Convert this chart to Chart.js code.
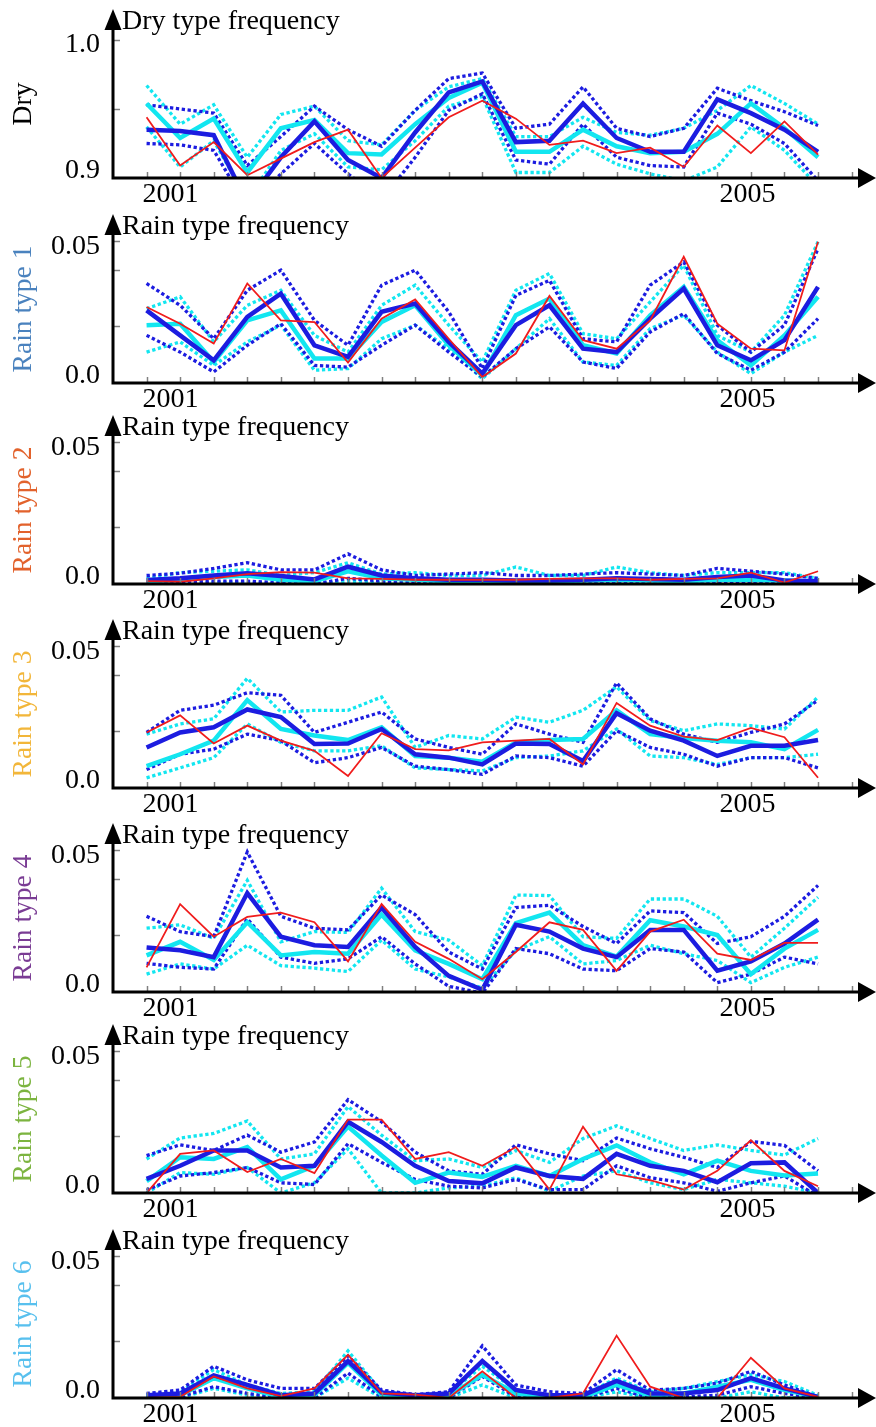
<!DOCTYPE html>
<html>
<head>
<meta charset="utf-8">
<script src="https://cdn.jsdelivr.net/npm/chart.js@4"></script>
<style>
  html, body { margin: 0; padding: 0; background: #fff; }
  #wrap { position: relative; width: 876px; height: 1427px; overflow: hidden; }
  #wrap canvas { position: absolute; left: 0; }
</style>
</head>
<body>
<div id="wrap"></div>
<script>
// time steps (one per season), 2001 .. 2005
var periods = [0, 1, 2, 3, 4, 5, 6, 7, 8, 9, 10, 11, 12, 13, 14, 15, 16, 17, 18, 19, 20];
var yearLabels = ["2001", "2005"];
var yearPositions = [0.71, 17.9];

// Dry
var dryRed    = [0.944, 0.909, 0.926, 0.902, 0.914, 0.926, 0.935, 0.900, 0.922, 0.944, 0.956, 0.943, 0.924, 0.927, 0.918, 0.922, 0.908, 0.938, 0.918, 0.941, 0.917];
var dryBlue   = [0.935, 0.934, 0.931, 0.882, 0.915, 0.941, 0.913, 0.900, 0.933, 0.962, 0.970, 0.926, 0.927, 0.954, 0.929, 0.919, 0.919, 0.957, 0.947, 0.935, 0.919];
var dryBlueHi = [0.953, 0.950, 0.947, 0.909, 0.930, 0.952, 0.935, 0.923, 0.949, 0.972, 0.976, 0.936, 0.939, 0.966, 0.936, 0.930, 0.936, 0.965, 0.956, 0.948, 0.938];
var dryBlueLo = [0.925, 0.924, 0.920, 0.879, 0.903, 0.925, 0.903, 0.884, 0.915, 0.949, 0.961, 0.913, 0.910, 0.939, 0.915, 0.909, 0.908, 0.947, 0.939, 0.925, 0.898];
var dryCyan   = [0.954, 0.929, 0.943, 0.904, 0.936, 0.942, 0.918, 0.917, 0.939, 0.958, 0.969, 0.919, 0.919, 0.935, 0.923, 0.918, 0.919, 0.932, 0.954, 0.936, 0.915];
var dryCyanHi = [0.967, 0.939, 0.953, 0.915, 0.946, 0.952, 0.927, 0.924, 0.949, 0.966, 0.972, 0.930, 0.930, 0.944, 0.933, 0.931, 0.936, 0.949, 0.967, 0.954, 0.939];
var dryCyanLo = [0.937, 0.908, 0.927, 0.884, 0.920, 0.932, 0.908, 0.906, 0.927, 0.952, 0.959, 0.904, 0.904, 0.923, 0.910, 0.903, 0.898, 0.908, 0.937, 0.920, 0.894];

// Rain type 1
var r1Red    = [0.0268, 0.0209, 0.0139, 0.0351, 0.0221, 0.0215, 0.0072, 0.0227, 0.0295, 0.0156, 0.0021, 0.0104, 0.0307, 0.0151, 0.0121, 0.0221, 0.0445, 0.0209, 0.0121, 0.0115, 0.0498];
var r1Blue   = [0.0256, 0.0168, 0.0080, 0.0233, 0.0315, 0.0133, 0.0092, 0.0251, 0.0280, 0.0145, 0.0033, 0.0204, 0.0274, 0.0121, 0.0109, 0.0227, 0.0333, 0.0133, 0.0080, 0.0151, 0.0339];
var r1BlueHi = [0.0351, 0.0274, 0.0156, 0.0327, 0.0398, 0.0221, 0.0133, 0.0345, 0.0398, 0.0251, 0.0051, 0.0309, 0.0362, 0.0156, 0.0145, 0.0345, 0.0427, 0.0204, 0.0109, 0.0204, 0.0474];
var r1BlueLo = [0.0168, 0.0109, 0.0039, 0.0133, 0.0209, 0.0062, 0.0056, 0.0133, 0.0204, 0.0109, 0.0021, 0.0121, 0.0198, 0.0074, 0.0051, 0.0180, 0.0245, 0.0104, 0.0045, 0.0109, 0.0227];
var r1Cyan   = [0.0204, 0.0209, 0.0074, 0.0221, 0.0256, 0.0086, 0.0086, 0.0215, 0.0274, 0.0133, 0.0027, 0.0239, 0.0298, 0.0133, 0.0104, 0.0239, 0.0339, 0.0151, 0.0062, 0.0168, 0.0304];
var r1CyanHi = [0.0262, 0.0304, 0.0145, 0.0274, 0.0327, 0.0168, 0.0109, 0.0274, 0.0345, 0.0204, 0.0074, 0.0327, 0.0386, 0.0174, 0.0156, 0.0286, 0.0415, 0.0168, 0.0109, 0.0239, 0.0498];
var r1CyanLo = [0.0109, 0.0145, 0.0062, 0.0145, 0.0204, 0.0045, 0.0051, 0.0156, 0.0204, 0.0121, 0.0015, 0.0121, 0.0227, 0.0074, 0.0062, 0.0192, 0.0239, 0.0109, 0.0033, 0.0109, 0.0168];

// Rain type 2
var r2Red    = [0.0010, 0.0008, 0.0020, 0.0035, 0.0042, 0.0040, 0.0020, 0.0018, 0.0015, 0.0015, 0.0015, 0.0015, 0.0018, 0.0020, 0.0020, 0.0015, 0.0018, 0.0020, 0.0040, 0.0005, 0.0045];
var r2Blue   = [0.0014, 0.0020, 0.0030, 0.0038, 0.0028, 0.0016, 0.0061, 0.0030, 0.0020, 0.0015, 0.0015, 0.0012, 0.0012, 0.0015, 0.0020, 0.0018, 0.0015, 0.0025, 0.0030, 0.0012, 0.0010];
var r2BlueHi = [0.0030, 0.0038, 0.0055, 0.0075, 0.0050, 0.0050, 0.0106, 0.0050, 0.0030, 0.0035, 0.0040, 0.0030, 0.0030, 0.0035, 0.0040, 0.0035, 0.0030, 0.0055, 0.0045, 0.0035, 0.0020];
var r2BlueLo = [0.0003, 0.0005, 0.0010, 0.0010, 0.0005, 0.0000, 0.0020, 0.0010, 0.0005, 0.0000, 0.0000, 0.0000, 0.0002, 0.0000, 0.0005, 0.0000, 0.0000, 0.0005, 0.0008, 0.0000, 0.0000];
var r2Cyan   = [0.0010, 0.0015, 0.0025, 0.0030, 0.0015, 0.0010, 0.0045, 0.0020, 0.0015, 0.0010, 0.0012, 0.0010, 0.0010, 0.0012, 0.0015, 0.0012, 0.0010, 0.0015, 0.0015, 0.0012, 0.0008];
var r2CyanHi = [0.0020, 0.0040, 0.0045, 0.0050, 0.0030, 0.0040, 0.0075, 0.0035, 0.0040, 0.0030, 0.0030, 0.0060, 0.0030, 0.0030, 0.0060, 0.0040, 0.0030, 0.0040, 0.0040, 0.0040, 0.0020];
var r2CyanLo = [0.0000, 0.0000, 0.0005, 0.0005, 0.0000, 0.0000, 0.0010, 0.0005, 0.0000, 0.0000, 0.0000, 0.0000, 0.0000, 0.0000, 0.0003, 0.0000, 0.0000, 0.0000, 0.0002, 0.0000, 0.0000];

// Rain type 3
var r3Red    = [0.0196, 0.0256, 0.0157, 0.0220, 0.0167, 0.0131, 0.0042, 0.0193, 0.0137, 0.0133, 0.0161, 0.0167, 0.0173, 0.0083, 0.0300, 0.0220, 0.0181, 0.0169, 0.0212, 0.0179, 0.0036];
var r3Blue   = [0.0143, 0.0196, 0.0214, 0.0277, 0.0250, 0.0155, 0.0157, 0.0208, 0.0119, 0.0107, 0.0083, 0.0157, 0.0155, 0.0095, 0.0264, 0.0202, 0.0167, 0.0113, 0.0149, 0.0149, 0.0169];
var r3BlueHi = [0.0196, 0.0274, 0.0292, 0.0336, 0.0327, 0.0196, 0.0232, 0.0268, 0.0173, 0.0143, 0.0119, 0.0226, 0.0190, 0.0161, 0.0371, 0.0244, 0.0190, 0.0161, 0.0196, 0.0226, 0.0310];
var r3BlueLo = [0.0065, 0.0119, 0.0137, 0.0190, 0.0167, 0.0089, 0.0107, 0.0143, 0.0077, 0.0065, 0.0048, 0.0113, 0.0107, 0.0077, 0.0202, 0.0143, 0.0119, 0.0077, 0.0107, 0.0107, 0.0071];
var r3Cyan   = [0.0077, 0.0119, 0.0167, 0.0310, 0.0208, 0.0185, 0.0169, 0.0214, 0.0113, 0.0107, 0.0093, 0.0161, 0.0169, 0.0173, 0.0274, 0.0190, 0.0176, 0.0167, 0.0161, 0.0137, 0.0205];
var r3CyanHi = [0.0190, 0.0226, 0.0244, 0.0387, 0.0268, 0.0274, 0.0274, 0.0321, 0.0143, 0.0185, 0.0173, 0.0250, 0.0232, 0.0274, 0.0357, 0.0238, 0.0202, 0.0226, 0.0220, 0.0208, 0.0321];
var r3CyanLo = [0.0036, 0.0071, 0.0107, 0.0226, 0.0161, 0.0131, 0.0131, 0.0149, 0.0071, 0.0065, 0.0060, 0.0107, 0.0113, 0.0131, 0.0208, 0.0113, 0.0107, 0.0083, 0.0107, 0.0107, 0.0119];

// Rain type 4
var r4Red    = [0.0087, 0.0310, 0.0195, 0.0265, 0.0280, 0.0246, 0.0108, 0.0310, 0.0177, 0.0117, 0.0045, 0.0141, 0.0246, 0.0219, 0.0075, 0.0213, 0.0255, 0.0135, 0.0113, 0.0173, 0.0173];
var r4Blue   = [0.0157, 0.0147, 0.0123, 0.0349, 0.0195, 0.0165, 0.0159, 0.0298, 0.0159, 0.0057, 0.0008, 0.0237, 0.0213, 0.0153, 0.0123, 0.0219, 0.0219, 0.0075, 0.0108, 0.0171, 0.0255];
var r4BlueHi = [0.0267, 0.0213, 0.0195, 0.0494, 0.0267, 0.0225, 0.0219, 0.0342, 0.0273, 0.0141, 0.0081, 0.0298, 0.0306, 0.0231, 0.0171, 0.0286, 0.0280, 0.0171, 0.0195, 0.0267, 0.0376];
var r4BlueLo = [0.0101, 0.0087, 0.0081, 0.0258, 0.0123, 0.0101, 0.0117, 0.0195, 0.0099, 0.0020, -0.0004, 0.0153, 0.0135, 0.0081, 0.0075, 0.0153, 0.0141, 0.0033, 0.0063, 0.0123, 0.0099];
var r4Cyan   = [0.0129, 0.0177, 0.0113, 0.0246, 0.0129, 0.0141, 0.0135, 0.0273, 0.0147, 0.0099, 0.0045, 0.0243, 0.0280, 0.0165, 0.0125, 0.0253, 0.0231, 0.0201, 0.0063, 0.0153, 0.0219];
var r4CyanHi = [0.0225, 0.0237, 0.0189, 0.0394, 0.0177, 0.0213, 0.0210, 0.0366, 0.0213, 0.0183, 0.0093, 0.0342, 0.0340, 0.0195, 0.0189, 0.0328, 0.0328, 0.0267, 0.0123, 0.0225, 0.0334];
var r4CyanLo = [0.0063, 0.0099, 0.0081, 0.0165, 0.0093, 0.0084, 0.0072, 0.0183, 0.0081, 0.0053, 0.0014, 0.0147, 0.0195, 0.0099, 0.0111, 0.0165, 0.0135, 0.0111, 0.0033, 0.0087, 0.0123];

// Rain type 5
var r5Red    = [0.0000, 0.0138, 0.0150, 0.0074, 0.0120, 0.0070, 0.0259, 0.0259, 0.0120, 0.0144, 0.0096, 0.0162, 0.0012, 0.0234, 0.0066, 0.0045, 0.0012, 0.0078, 0.0186, 0.0078, 0.0024];
var r5Blue   = [0.0050, 0.0096, 0.0150, 0.0150, 0.0090, 0.0096, 0.0251, 0.0180, 0.0096, 0.0042, 0.0034, 0.0090, 0.0060, 0.0050, 0.0138, 0.0096, 0.0078, 0.0038, 0.0105, 0.0108, 0.0000];
var r5BlueHi = [0.0132, 0.0170, 0.0150, 0.0204, 0.0144, 0.0180, 0.0329, 0.0251, 0.0144, 0.0078, 0.0066, 0.0170, 0.0138, 0.0114, 0.0194, 0.0156, 0.0126, 0.0090, 0.0182, 0.0168, 0.0078];
var r5BlueLo = [0.0010, 0.0060, 0.0072, 0.0090, 0.0036, 0.0030, 0.0174, 0.0108, 0.0048, 0.0024, 0.0018, 0.0048, 0.0012, 0.0012, 0.0096, 0.0054, 0.0036, 0.0006, 0.0036, 0.0060, -0.0012];
var r5Cyan   = [0.0042, 0.0126, 0.0120, 0.0162, 0.0048, 0.0096, 0.0234, 0.0132, 0.0036, 0.0072, 0.0057, 0.0096, 0.0060, 0.0120, 0.0168, 0.0108, 0.0066, 0.0114, 0.0078, 0.0062, 0.0069];
var r5CyanHi = [0.0120, 0.0194, 0.0210, 0.0254, 0.0120, 0.0138, 0.0305, 0.0204, 0.0114, 0.0120, 0.0090, 0.0150, 0.0108, 0.0192, 0.0237, 0.0192, 0.0150, 0.0170, 0.0150, 0.0134, 0.0192];
var r5CyanLo = [0.0000, 0.0072, 0.0066, 0.0090, 0.0000, 0.0036, 0.0156, 0.0000, 0.0000, 0.0018, 0.0024, 0.0054, 0.0006, 0.0060, 0.0078, 0.0036, 0.0012, 0.0048, 0.0036, 0.0024, 0.0000];

// Rain type 6
var r6Red    = [0.0000, 0.0004, 0.0076, 0.0034, 0.0007, 0.0034, 0.0152, 0.0016, 0.0012, 0.0000, 0.0094, 0.0000, 0.0000, 0.0016, 0.0220, 0.0040, 0.0000, 0.0000, 0.0142, 0.0034, 0.0004];
var r6Blue   = [0.0010, 0.0016, 0.0080, 0.0046, 0.0010, 0.0016, 0.0130, 0.0019, 0.0010, 0.0016, 0.0130, 0.0028, 0.0010, 0.0010, 0.0060, 0.0016, 0.0016, 0.0028, 0.0070, 0.0034, 0.0004];
var r6BlueHi = [0.0016, 0.0028, 0.0112, 0.0064, 0.0034, 0.0034, 0.0148, 0.0028, 0.0012, 0.0022, 0.0184, 0.0046, 0.0022, 0.0016, 0.0100, 0.0028, 0.0034, 0.0052, 0.0094, 0.0046, 0.0004];
var r6BlueLo = [0.0004, 0.0004, 0.0040, 0.0016, 0.0000, 0.0000, 0.0088, 0.0004, 0.0000, 0.0000, 0.0076, 0.0004, 0.0000, 0.0000, 0.0034, 0.0000, 0.0004, 0.0010, 0.0040, 0.0016, 0.0000];
var r6Cyan   = [0.0004, 0.0010, 0.0070, 0.0034, 0.0004, 0.0010, 0.0124, 0.0010, 0.0004, 0.0007, 0.0082, 0.0016, 0.0004, 0.0004, 0.0046, 0.0010, 0.0016, 0.0040, 0.0064, 0.0028, 0.0004];
var r6CyanHi = [0.0010, 0.0022, 0.0100, 0.0046, 0.0016, 0.0022, 0.0166, 0.0022, 0.0010, 0.0016, 0.0112, 0.0028, 0.0010, 0.0010, 0.0070, 0.0022, 0.0034, 0.0058, 0.0082, 0.0058, 0.0010];
var r6CyanLo = [0.0000, 0.0000, 0.0034, 0.0010, 0.0000, 0.0000, 0.0070, 0.0000, 0.0000, 0.0000, 0.0046, 0.0000, 0.0000, 0.0000, 0.0022, 0.0000, 0.0000, 0.0000, 0.0022, 0.0000, 0.0000];

var BLUE = "#1c1ce0";
var CYAN = "#12e6f0";
var RED = "#f01c1c";
var FONT = '"Liberation Serif", "Times New Roman", serif';

var panels = [
  { top: 0,    name: "Dry",         color: "#000000", title: "Dry type frequency",  min: 0.9, max: 1.0072, minor: [0.95], labels: ["0.9", "1.0"], labelAt: [0.9, 1.0],
    lines: [dryRed, dryBlue, dryCyan, dryBlueHi, dryBlueLo, dryCyanHi, dryCyanLo] },
  { top: 205,  name: "Rain type 1", color: "#4a82be", title: "Rain type frequency", min: 0, max: 0.0522, minor: [0.02, 0.04], labels: ["0.0", "0.05"], labelAt: [0, 0.05],
    lines: [r1Red, r1Blue, r1Cyan, r1BlueHi, r1BlueLo, r1CyanHi, r1CyanLo] },
  { top: 406,  name: "Rain type 2", color: "#e2622c", title: "Rain type frequency", min: 0, max: 0.0522, minor: [0.02, 0.04], labels: ["0.0", "0.05"], labelAt: [0, 0.05],
    lines: [r2Red, r2Blue, r2Cyan, r2BlueHi, r2BlueLo, r2CyanHi, r2CyanLo] },
  { top: 610,  name: "Rain type 3", color: "#f2b63a", title: "Rain type frequency", min: 0, max: 0.0522, minor: [0.02, 0.04], labels: ["0.0", "0.05"], labelAt: [0, 0.05],
    lines: [r3Red, r3Blue, r3Cyan, r3BlueHi, r3BlueLo, r3CyanHi, r3CyanLo] },
  { top: 814,  name: "Rain type 4", color: "#7a3c94", title: "Rain type frequency", min: 0, max: 0.0522, minor: [0.02, 0.04], labels: ["0.0", "0.05"], labelAt: [0, 0.05],
    lines: [r4Red, r4Blue, r4Cyan, r4BlueHi, r4BlueLo, r4CyanHi, r4CyanLo] },
  { top: 1015, name: "Rain type 5", color: "#7cb440", title: "Rain type frequency", min: 0, max: 0.0522, minor: [0.02, 0.04], labels: ["0.0", "0.05"], labelAt: [0, 0.05],
    lines: [r5Red, r5Blue, r5Cyan, r5BlueHi, r5BlueLo, r5CyanHi, r5CyanLo] },
  { top: 1220, name: "Rain type 6", color: "#58c0ee", title: "Rain type frequency", min: 0, max: 0.0522, minor: [0.02, 0.04], labels: ["0.0", "0.05"], labelAt: [0, 0.05],
    lines: [r6Red, r6Blue, r6Cyan, r6BlueHi, r6BlueLo, r6CyanHi, r6CyanLo] }
];

// red, blue mean, cyan mean, blue bounds, cyan bounds (first drawn on top)
var styles = [
  { color: RED,  width: 1.8, dash: [] },
  { color: BLUE, width: 4.5, dash: [] },
  { color: CYAN, width: 4.5, dash: [] },
  { color: BLUE, width: 3.3, dash: [3.3, 2.6] },
  { color: BLUE, width: 3.3, dash: [3.3, 2.6] },
  { color: CYAN, width: 3.3, dash: [3.3, 2.6] },
  { color: CYAN, width: 3.3, dash: [3.3, 2.6] }
];

function toPoints(arr) {
  return arr.map(function (v, i) {
    return { x: periods[i], y: v };
  });
}

var arrowAxes = {
  id: "arrowAxes",
  afterDraw: function (chart, args, opts) {
    var p = opts.panel;
    var ctx = chart.ctx;
    var a = chart.chartArea;
    var x = chart.scales.x;
    var y = chart.scales.y;
    ctx.save();

    // small inward ticks
    ctx.strokeStyle = "#808080";
    ctx.lineWidth = 1.5;
    for (var i = 0; i <= 21; i++) {
      var px = Math.round(x.getPixelForValue(i)) + 0.5;
      ctx.beginPath();
      ctx.moveTo(px, a.bottom);
      ctx.lineTo(px, a.bottom - 6);
      ctx.stroke();
    }
    p.minor.concat([p.labelAt[1]]).forEach(function (v) {
      var py = Math.round(y.getPixelForValue(v)) + 0.5;
      ctx.beginPath();
      ctx.moveTo(a.left, py);
      ctx.lineTo(a.left + 7, py);
      ctx.stroke();
    });

    // axis lines
    ctx.strokeStyle = "#000";
    ctx.lineWidth = 3;
    ctx.beginPath();
    ctx.moveTo(a.left, a.bottom + 1.5);
    ctx.lineTo(a.left, 26);
    ctx.moveTo(a.left - 1.5, a.bottom);
    ctx.lineTo(862, a.bottom);
    ctx.stroke();

    // arrow heads
    ctx.fillStyle = "#000";
    ctx.beginPath();
    ctx.moveTo(a.left, 9);
    ctx.lineTo(a.left - 8.5, 30);
    ctx.lineTo(a.left + 8.5, 30);
    ctx.closePath();
    ctx.fill();
    ctx.beginPath();
    ctx.moveTo(876, a.bottom);
    ctx.lineTo(858, a.bottom - 10);
    ctx.lineTo(858, a.bottom + 10);
    ctx.closePath();
    ctx.fill();

    // tick labels
    ctx.font = "28px " + FONT;
    ctx.textBaseline = "middle";
    ctx.textAlign = "right";
    ctx.fillText(p.labels[0], 100, y.getPixelForValue(p.labelAt[0]) - 7);
    ctx.fillText(p.labels[1], 100, y.getPixelForValue(p.labelAt[1]) + 5);
    ctx.textAlign = "center";
    yearLabels.forEach(function (lab, k) {
      ctx.fillText(lab, x.getPixelForValue(yearPositions[k]), a.bottom + 17);
    });

    // titles
    ctx.font = "28px " + FONT;
    ctx.textAlign = "left";
    ctx.fillText(p.title, 122, 22);
    ctx.save();
    ctx.translate(24, 104);
    ctx.rotate(-Math.PI / 2);
    ctx.textAlign = "center";
    ctx.font = "27.5px " + FONT;
    ctx.fillStyle = p.color;
    ctx.fillText(p.name, 0, 0);
    ctx.restore();

    ctx.restore();
  }
};

var wrap = document.getElementById("wrap");
panels.forEach(function (p) {
  var canvas = document.createElement("canvas");
  canvas.width = 876;
  canvas.height = 204;
  canvas.style.top = p.top + "px";
  wrap.appendChild(canvas);

  new Chart(canvas.getContext("2d"), {
    type: "line",
    data: {
      datasets: p.lines.map(function (arr, k) {
        return {
          data: toPoints(arr),
          borderColor: styles[k].color,
          borderWidth: styles[k].width,
          borderDash: styles[k].dash,
          borderCapStyle: "butt",
          borderJoinStyle: "miter",
          pointRadius: 0,
          tension: 0,
          fill: false,
          clip: 0
        };
      })
    },
    options: {
      responsive: false,
      animation: false,
      devicePixelRatio: 1,
      layout: { padding: { left: 113, right: 16, top: 30, bottom: 26 } },
      plugins: {
        legend: { display: false },
        tooltip: { enabled: false },
        arrowAxes: { panel: p }
      },
      scales: {
        x: { type: "linear", min: -1, max: 21.25, display: false },
        y: { type: "linear", min: p.min, max: p.max, display: false }
      }
    },
    plugins: [arrowAxes]
  });
});
</script>
</body>
</html>
